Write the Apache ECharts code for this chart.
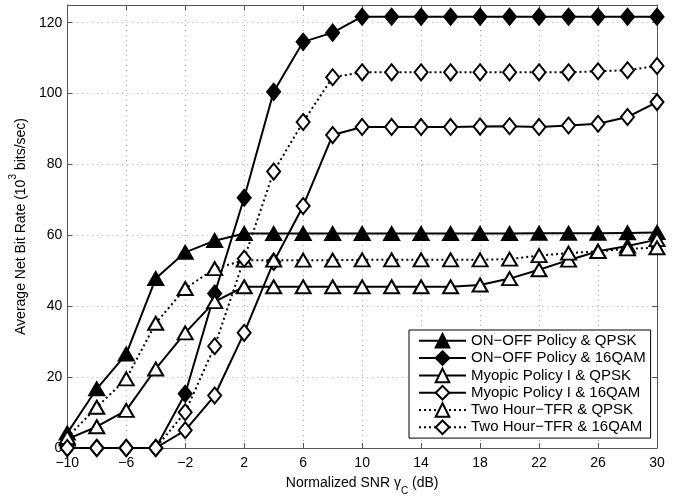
<!DOCTYPE html>
<html>
<head>
<meta charset="utf-8">
<script src="https://cdn.jsdelivr.net/npm/echarts@6/dist/echarts.min.js"></script>
<style>
  html, body { margin: 0; padding: 0; background: #fff; }
  #chart { width: 678px; height: 501px; }
</style>
</head>
<body>
<div id="chart"></div>
<script>
const snr = [-10, -8, -6, -4, -2, 0, 2, 4, 6, 8, 10, 12, 14, 16, 18, 20, 22, 24, 26, 28, 30]

const onoffQpsk = [4.2, 16.7, 26.5, 47.8, 55.2, 58.5, 60.5, 60.5, 60.5, 60.5, 60.5, 60.5, 60.5, 60.5, 60.5, 60.5, 60.6, 60.6, 60.6, 60.7, 60.8]
const onoff16qam = [0, 0, 0, 0, 15.3, 43.6, 70.6, 100.5, 114.6, 117.2, 121.7, 121.7, 121.7, 121.7, 121.7, 121.7, 121.7, 121.7, 121.7, 121.7, 121.7]
const myopicQpsk = [2.5, 6, 10.6, 22.3, 32.5, 41.3, 45.5, 45.5, 45.5, 45.5, 45.5, 45.5, 45.5, 45.5, 46, 47.8, 50.3, 53, 55.5, 57, 58.8]
const myopic16qam = [0, 0, 0, 0, 5, 14.8, 32.5, 52.5, 68.3, 88.3, 90.6, 90.6, 90.6, 90.6, 90.7, 90.8, 90.6, 91, 91.5, 93.4, 97.6]
const twoHourQpsk = [3, 11.5, 19.5, 35.2, 45, 50.6, 53, 53, 53, 53, 53.1, 53.1, 53.1, 53.1, 53.1, 53.3, 54.3, 55, 55.5, 56.2, 56.5]
const twoHour16qam = [0, 0, 0, 0, 10.1, 28.7, 53.4, 78, 92, 104.6, 106, 106, 106, 106, 106, 106, 106, 106, 106.3, 106.6, 107.8]

const names = [
  'ON\u2212OFF Policy & QPSK',
  'ON\u2212OFF Policy & 16QAM',
  'Myopic Policy I & QPSK',
  'Myopic Policy I & 16QAM',
  'Two Hour\u2212TFR & QPSK',
  'Two Hour\u2212TFR & 16QAM'
]

const font = 'Liberation Sans, Arial, Helvetica, sans-serif'
const boxColor = '#555'
const tri = [15, 13]
const dia = [13, 16]

const pairs = (ys) => snr.map((x, i) => [x, ys[i]])

const makeSeries = (name, ys, symbol, size, filled, dotted) => ({
  name,
  type: 'line',
  data: pairs(ys),
  symbol,
  symbolSize: size,
  showAllSymbol: true,
  clip: false,
  lineStyle: {
    color: '#000',
    width: 2,
    type: dotted ? [2, 3] : 'solid'
  },
  itemStyle: {
    color: filled ? '#000' : '#fff',
    borderColor: '#000',
    borderWidth: 2
  },
  emphasis: { disabled: true }
})

const minus = (v) => String(v).replace('-', '\u2212')

const boxLine = { show: true, onZero: false, lineStyle: { color: boxColor, width: 1 } }
const boxTick = { show: true, inside: true, length: 5, lineStyle: { color: boxColor } }
const grid = { show: true, lineStyle: { color: '#aaa', type: [1, 4], width: 1 } }

const option = {
  backgroundColor: '#fff',
  animation: false,
  textStyle: { fontFamily: font },
  grid: { left: 67, right: 21, top: 5, bottom: 48 },
  legend: {
    orient: 'vertical',
    left: 409,
    top: 330,
    data: names,
    itemWidth: 47,
    itemHeight: 17,
    itemGap: 1.7,
    padding: [3, 5, 3, 9],
    backgroundColor: '#fff',
    borderColor: '#000',
    borderWidth: 1,
    textStyle: { fontSize: 15, color: '#000', fontFamily: font },
    selectedMode: false
  },
  xAxis: [{
    type: 'value',
    min: -10,
    max: 30,
    interval: 4,
    name: 'Normalized SNR \u03b3{sub|C} (dB)',
    nameLocation: 'middle',
    nameGap: 28,
    nameTextStyle: {
      fontSize: 14,
      color: '#000',
      fontFamily: font,
      rich: {
        sub: { fontSize: 10, verticalAlign: 'bottom', padding: [0, 0, -6, 0], color: '#000' }
      }
    },
    axisLine: boxLine,
    axisTick: boxTick,
    axisLabel: { fontSize: 14, color: '#000', margin: 8, formatter: minus },
    splitLine: grid
  }, {
    type: 'value',
    position: 'top',
    min: -10,
    max: 30,
    interval: 4,
    axisLine: boxLine,
    axisTick: boxTick,
    axisLabel: { show: false },
    splitLine: { show: false }
  }],
  yAxis: [{
    type: 'value',
    min: 0,
    max: 125,
    interval: 20,
    name: 'Average Net Bit Rate (10{sup|3} bits/sec)',
    nameLocation: 'middle',
    nameGap: 38,
    nameTextStyle: {
      fontSize: 14,
      color: '#000',
      fontFamily: font,
      rich: {
        sup: { fontSize: 10, verticalAlign: 'top', padding: [-6, 0, 0, 0], color: '#000' }
      }
    },
    axisLine: boxLine,
    axisTick: boxTick,
    axisLabel: {
      fontSize: 14,
      color: '#000',
      margin: 5,
      formatter: (v) => (v % 20 === 0 ? String(v) : '')
    },
    splitLine: grid
  }, {
    type: 'value',
    position: 'right',
    min: 0,
    max: 125,
    interval: 20,
    axisLine: boxLine,
    axisTick: boxTick,
    axisLabel: { show: false },
    splitLine: { show: false }
  }],
  series: [
    makeSeries(names[0], onoffQpsk, 'triangle', tri, true, false),
    makeSeries(names[1], onoff16qam, 'diamond', dia, true, false),
    makeSeries(names[2], myopicQpsk, 'triangle', tri, false, false),
    makeSeries(names[3], myopic16qam, 'diamond', dia, false, false),
    makeSeries(names[4], twoHourQpsk, 'triangle', tri, false, true),
    makeSeries(names[5], twoHour16qam, 'diamond', dia, false, true)
  ]
}

const chart = echarts.init(document.getElementById('chart'))
chart.setOption(option)
</script>
</body>
</html>
